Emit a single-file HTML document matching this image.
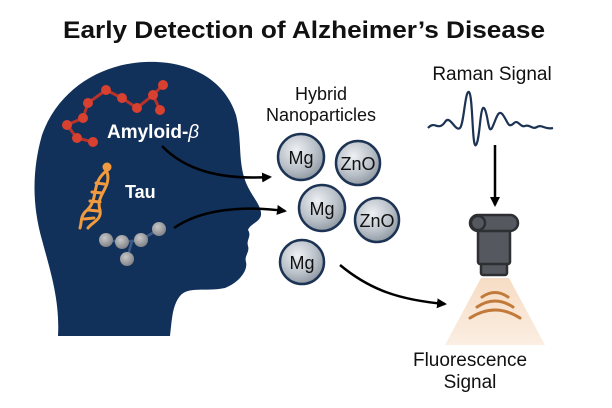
<!DOCTYPE html>
<html><head><meta charset="utf-8"><style>
html,body{margin:0;padding:0;background:#fff;}
svg{display:block;}
text{font-family:"Liberation Sans",sans-serif;}
</style></head><body>
<svg width="612" height="408" viewBox="0 0 612 408" xmlns="http://www.w3.org/2000/svg">
<defs>
<radialGradient id="np" cx="40%" cy="35%" r="70%">
<stop offset="0" stop-color="#eef1f4"/><stop offset="0.6" stop-color="#b9c0c8"/><stop offset="1" stop-color="#8a939d"/>
</radialGradient>
<radialGradient id="gb" cx="40%" cy="35%" r="70%">
<stop offset="0" stop-color="#c8c8c8"/><stop offset="1" stop-color="#7d7f84"/>
</radialGradient>
<linearGradient id="cone" x1="0" y1="0" x2="0" y2="1">
<stop offset="0" stop-color="#f6dcc4"/><stop offset="1" stop-color="#fbeee2"/>
</linearGradient>
<marker id="ah" markerWidth="10" markerHeight="10" refX="8" refY="5" orient="auto" markerUnits="userSpaceOnUse">
<path d="M0,0 L10,5 L0,10 Z" fill="#000"/>
</marker>
</defs>

<text x="304" y="38" font-size="24" font-weight="bold" text-anchor="middle" textLength="482" lengthAdjust="spacingAndGlyphs" fill="#111">Early Detection of Alzheimer’s Disease</text>

<path d="M58,336 C60,300 50,270 42,240 C32,205 32,170 42,135 C58,90 100,64 145,62 C190,60 225,80 236,115 C242,140 238,160 245,180 C250,195 262,205 261,215 C260,222 250,224 248,230 C252,236 246,240 248,246 C250,252 244,256 246,262 C248,270 240,282 225,288 C205,292 188,286 180,296 C172,306 172,320 170,336 Z" fill="#11305a"/>

<g stroke="#b8322a" stroke-width="3" fill="none">
<polyline points="93,142 77,138 67,125 83,118 88,103 106,90 122,98 137,108 153,95 163,85"/>
<line x1="153" y1="95" x2="160" y2="110"/>
</g>
<g fill="#d8402f">
<circle cx="93" cy="142" r="5"/><circle cx="77" cy="138" r="5"/><circle cx="67" cy="125" r="5"/><circle cx="83" cy="118" r="5"/><circle cx="88" cy="103" r="5"/><circle cx="106" cy="90" r="5"/><circle cx="122" cy="98" r="5"/><circle cx="137" cy="108" r="5"/><circle cx="153" cy="95" r="5"/><circle cx="163" cy="85" r="5"/><circle cx="160" cy="110" r="5"/>
</g>
<text x="107" y="138" font-size="19" font-weight="bold" fill="#fff">Amyloid-<tspan font-style="italic" font-weight="normal">β</tspan></text>

<g stroke="#f19a3e" stroke-width="3" fill="none" stroke-linecap="round">
<path d="M105,172 C90,185 100,200 85,212 C80,218 82,222 80,228"/>
<path d="M107,172 C112,188 95,195 100,210 C102,220 92,222 88,228"/>
<line x1="96" y1="183" x2="104" y2="184"/><line x1="92" y1="192" x2="102" y2="193"/><line x1="90" y1="201" x2="100" y2="202"/><line x1="88" y1="210" x2="98" y2="211"/><line x1="84" y1="219" x2="94" y2="218"/>
</g>
<circle cx="107" cy="167" r="4.5" fill="#f19a3e"/>
<text x="125" y="198" font-size="18" font-weight="bold" fill="#fff">Tau</text>

<g stroke="#3b5a8a" stroke-width="2.5"><polyline points="106,240 122,242 141,240 159,229" fill="none"/><line x1="132" y1="241" x2="127" y2="259"/></g>
<g fill="url(#gb)"><circle cx="106" cy="240" r="7"/><circle cx="122" cy="242" r="7"/><circle cx="141" cy="240" r="7"/><circle cx="159" cy="229" r="7"/><circle cx="127" cy="259" r="7"/></g>

<g stroke="#000" stroke-width="2.5" fill="none" marker-end="url(#ah)">
<path d="M162,146 C185,170 220,180 270,177"/>
<path d="M174,228 C200,210 240,205 285,211"/>
<path d="M340,265 C370,290 400,300 445,304"/>
<path d="M495,145 L495,205"/>
</g>

<text x="321" y="100" font-size="18" text-anchor="middle" fill="#111">Hybrid</text>
<text x="321" y="121" font-size="18" text-anchor="middle" fill="#111">Nanoparticles</text>

<g stroke="#1c3354" stroke-width="2.5" fill="url(#np)">
<circle cx="301" cy="157" r="23"/><circle cx="358" cy="163" r="22"/><circle cx="322" cy="208" r="23"/><circle cx="377" cy="220" r="22"/><circle cx="302" cy="262" r="22"/>
</g>
<g font-size="18" text-anchor="middle" fill="#111">
<text x="301" y="164">Mg</text><text x="358" y="170">ZnO</text><text x="322" y="215">Mg</text><text x="377" y="227">ZnO</text><text x="302" y="269">Mg</text>
</g>

<text x="492" y="80" font-size="19" text-anchor="middle" fill="#111">Raman Signal</text>
<path d="M428,128 C435,120 438,132 445,122 C450,114 455,132 460,128 C464,124 465,90 469,92 C473,95 472,150 476,145 C480,140 480,105 484,108 C488,112 488,135 492,128 C496,120 498,108 503,115 C508,122 508,128 513,124 C518,118 520,128 525,126 C530,124 532,130 537,127 C542,124 545,130 553,128" stroke="#1c3354" stroke-width="2.2" fill="none"/>

<path d="M481,278 L509,278 L545,345 L445,345 Z" fill="url(#cone)"/>
<g stroke="#c27a3a" stroke-width="3" fill="none" stroke-linecap="round">
<path d="M482,297 Q495,288 508,297"/><path d="M477,307 Q495,295 513,307"/><path d="M470,318 Q495,302 520,318"/>
</g>
<g stroke="#2d2f33" stroke-width="2.5" fill="#55585e">
<rect x="481" y="262" width="26" height="13" rx="2"/>
<rect x="478" y="226" width="32" height="38" rx="2"/>
<rect x="470" y="215" width="48" height="16" rx="8"/>
<circle cx="478" cy="223" r="7"/>
</g>

<text x="470" y="366" font-size="19" text-anchor="middle" fill="#111">Fluorescence</text>
<text x="470" y="388" font-size="19" text-anchor="middle" fill="#111">Signal</text>
</svg>
</body></html>
